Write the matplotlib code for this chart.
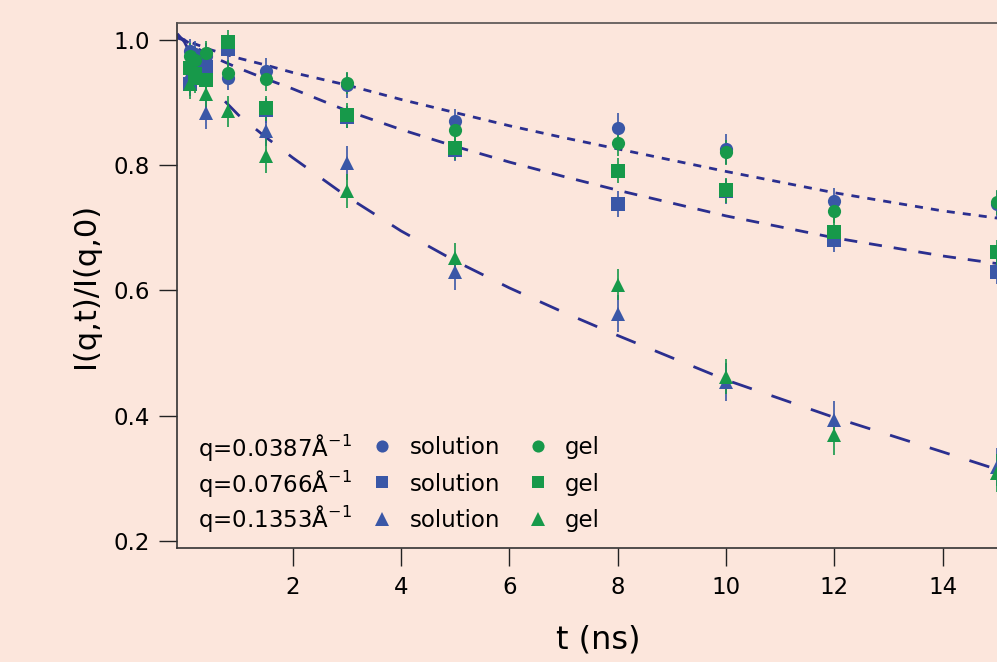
import matplotlib
matplotlib.use('Agg')
import matplotlib.pyplot as plt
from matplotlib.lines import Line2D
import numpy as np

plt.rcParams['font.family'] = ['DejaVu Sans']
plt.rcParams['mathtext.fontset'] = 'dejavusans'
plt.rcParams['lines.scale_dashes'] = False

# ---------------- data ----------------
t = [0.1, 0.2, 0.4, 0.8, 1.5, 3, 5, 8, 10, 12, 15]

sol_q1 = [0.982, 0.978, 0.975, 0.940, 0.951, 0.928, 0.870, 0.859, 0.826, 0.742, 0.738]
gel_q1 = [0.975, 0.968, 0.979, 0.948, 0.938, 0.931, 0.856, 0.835, 0.821, 0.727, 0.741]
sol_q2 = [0.930, 0.962, 0.957, 0.985, 0.888, 0.877, 0.824, 0.738, 0.758, 0.681, 0.630]
gel_q2 = [0.955, 0.945, 0.936, 0.996, 0.891, 0.880, 0.827, 0.791, 0.760, 0.694, 0.661]
sol_q3 = [0.945, 0.955, 0.883, np.nan, 0.855, 0.803, 0.629, 0.563, 0.454, 0.393, 0.318]
gel_q3 = [0.930, 0.940, 0.914, 0.886, 0.815, 0.759, 0.651, 0.609, 0.462, 0.369, 0.308]

err_sol_q1 = [0.02, 0.02, 0.02, 0.02, 0.02, 0.02, 0.02, 0.024, 0.024, 0.022, 0.02]
err_gel_q1 = [0.02, 0.02, 0.02, 0.02, 0.02, 0.018, 0.02, 0.02, 0.02, 0.02, 0.02]
err_sol_q2 = [0.02, 0.02, 0.02, 0.02, 0.02, 0.018, 0.018, 0.02, 0.02, 0.02, 0.02]
err_gel_q2 = [0.02, 0.02, 0.02, 0.02, 0.02, 0.02, 0.018, 0.02, 0.02, 0.022, 0.02]
err_sol_q3 = [0.025, 0.025, 0.025, 0.025, 0.025, 0.027, 0.029, 0.03, 0.03, 0.03, 0.03]
err_gel_q3 = [0.025, 0.025, 0.025, 0.025, 0.027, 0.027, 0.024, 0.025, 0.028, 0.032, 0.03]

fit_t = [-0.13, 0, 0.25, 0.5, 1, 1.5, 2, 3, 4, 5, 6, 7, 8, 10, 12, 14, 15.4]
fit_q1 = [1.003, 1.0, 0.992, 0.984, 0.971, 0.960, 0.948, 0.928, 0.905, 0.884,
          0.863, 0.844, 0.826, 0.790, 0.756, 0.727, 0.711]
fit_q2 = [1.006, 1.0, 0.986, 0.974, 0.955, 0.938, 0.922, 0.887, 0.857, 0.830,
          0.805, 0.782, 0.760, 0.719, 0.684, 0.655, 0.638]
fit_q3 = [1.01, 0.997, 0.955, 0.924, 0.880, 0.845, 0.812, 0.750, 0.695, 0.647,
          0.604, 0.565, 0.528, 0.457, 0.397, 0.342, 0.303]

q_labels = ['q=0.0387Å$^{-1}$', 'q=0.0766Å$^{-1}$', 'q=0.1353Å$^{-1}$']
x_ticks = [2, 4, 6, 8, 10, 12, 14]
y_ticks = [0.2, 0.4, 0.6, 0.8, 1.0]
y_ticklabels = ['0.2', '0.4', '0.6', '0.8', '1.0']

# ---------------- style ----------------
BG = '#FCE6DC'
BLUE = '#3A57A7'
GREEN = '#17994A'
NAVY = '#2B2F8F'

fig = plt.figure(figsize=(9.97, 6.62), dpi=100, facecolor=BG)
W, H = 997.0, 662.0
ax = fig.add_axes([177.3 / W, 1 - 548 / H, (1019 - 177.3) / W, (548 - 22.7) / H])
ax.set_facecolor(BG)

ax.set_xlim(-0.13, 15.41)
ax.set_ylim(0.1885, 1.0276)

# fit lines
ax.plot(fit_t, fit_q1, color=NAVY, lw=2.0, ls=(0, (5.8, 5.8)), zorder=2)
ax.plot(fit_t, fit_q2, color=NAVY, lw=2.0, ls=(0, (9.4, 8.6)), zorder=2)
ax.plot(fit_t, fit_q3, color=NAVY, lw=2.0, ls=(0, (15, 15)), zorder=2)

series = [
    (sol_q1, err_sol_q1, 'o', BLUE, 9.5),
    (sol_q2, err_sol_q2, 's', BLUE, 10),
    (sol_q3, err_sol_q3, '^', BLUE, 10.5),
    (gel_q1, err_gel_q1, 'o', GREEN, 9.5),
    (gel_q2, err_gel_q2, 's', GREEN, 10),
    (gel_q3, err_gel_q3, '^', GREEN, 10.5),
]
for y, e, m, c, ms in series:
    ax.errorbar(t, y, yerr=e, fmt=m, color=c, ms=ms, mew=0, elinewidth=1.2,
                capsize=0, zorder=3)

# axes styling
for side in ['left', 'bottom', 'top', 'right']:
    ax.spines[side].set_color('#333333')
    ax.spines[side].set_linewidth(1.2)
ax.spines['top'].set_color('#555050')

ax.set_xticks(x_ticks)
ax.set_xticklabels([str(v) for v in x_ticks])
ax.set_yticks(y_ticks)
ax.set_yticklabels(y_ticklabels)
ax.tick_params(axis='both', direction='out', length=13, width=1.0, colors='#222222',
               labelsize=16.5, labelcolor='black')
ax.tick_params(axis='x', pad=7.5)
ax.tick_params(axis='y', pad=6.5)

ax.set_xlabel('t (ns)', fontsize=23)
ax.xaxis.set_label_coords(0.5, -0.1447)
ax.set_ylabel('I(q,t)/I(q,0)', fontsize=22)
ax.yaxis.set_label_coords(-0.0918, 0.5)

# legend: q labels + marker columns
for lab, yb in zip(q_labels, [0.1751, 0.1066, 0.0400]):
    ax.text(0.024, yb, lab, transform=ax.transAxes, fontsize=16.5, va='baseline', ha='left')

handles = [Line2D([], [], ls='none', marker=s[2], color=s[3], ms=s[4] * 0.92, mew=0) for s in series]
labels = ['solution'] * 3 + ['gel'] * 3
ax.legend(handles, labels, ncol=2, loc='center left', bbox_to_anchor=(0.2300, 0.1218),
          frameon=False, fontsize=16.5, handlelength=1.0, handletextpad=0.68,
          columnspacing=1.16, labelspacing=0.6, borderpad=0, borderaxespad=0)

fig.savefig('out.png', dpi=100, facecolor=BG)
